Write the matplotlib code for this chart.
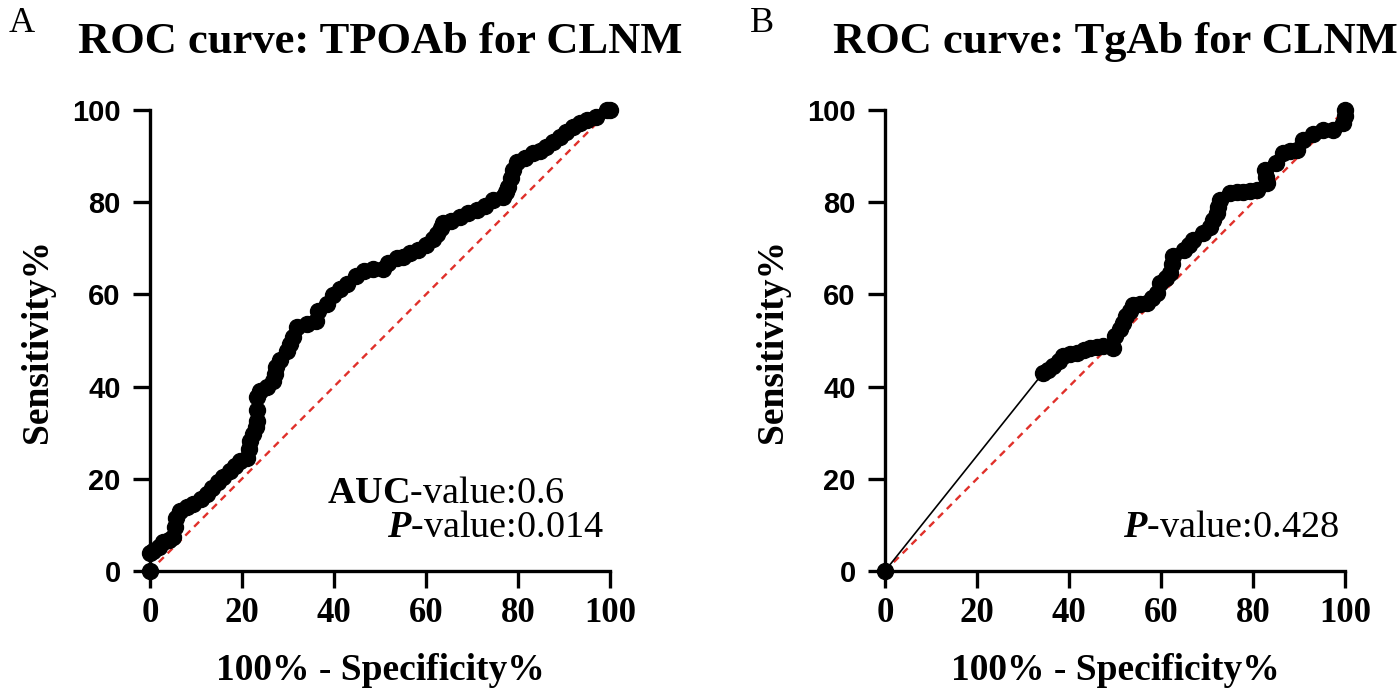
import matplotlib
matplotlib.use('Agg')
import matplotlib.pyplot as plt

plt.rcParams['mathtext.fontset'] = 'custom'
plt.rcParams['mathtext.rm'] = 'Liberation Serif'
plt.rcParams['mathtext.bf'] = 'Liberation Serif:bold'
plt.rcParams['mathtext.it'] = 'Liberation Serif:italic'
plt.rcParams['mathtext.bfit'] = 'Liberation Serif:italic:bold'

SERIF = 'Liberation Serif'
SANS = 'Liberation Sans'

# panel A: TPOAb, (100% - specificity%, sensitivity%)
tpo_fpr = [0, 0, 0.7, 2.0, 2.9, 4.2, 5.1, 5.4, 5.6, 6.5, 8.0, 9.4, 11.0, 12.3, 13.4, 14.8,
           15.9, 17.4, 18.5, 19.6, 21.0, 21.5, 21.7, 22.5, 23.0, 23.2, 23.2, 23.2, 23.9, 25.4,
           26.8, 27.2, 27.5, 28.3, 29.7, 30.5, 31.2, 31.9, 34.1, 36.2, 36.6, 38.4, 39.9, 41.3,
           42.8, 44.9, 46.5, 48.5, 50.7, 51.8, 53.6, 55.0, 56.5, 58.3, 60.1, 61.5, 62.3, 63.2,
           63.8, 65.5, 67.4, 69.2, 71.0, 72.8, 74.6, 76.8, 77.4, 77.9, 78.5, 79.0, 79.7, 81.5,
           83.3, 84.8, 86.2, 87.6, 89.1, 90.5, 92.0, 93.5, 94.9, 97.0, 99.3, 100]
tpo_sens = [0, 4.0, 4.3, 5.3, 6.2, 6.8, 7.4, 9.5, 11.6, 13.0, 13.8, 14.5, 15.6, 16.7, 18.1, 19.4,
            20.3, 21.7, 22.8, 23.9, 24.6, 26.5, 28.3, 29.7, 31.2, 32.6, 35.0, 37.7, 39.1, 39.9,
            41.3, 42.8, 44.2, 45.7, 47.8, 49.3, 50.7, 52.9, 53.6, 54.3, 56.5, 58.0, 59.8, 61.2,
            62.3, 64.0, 65.0, 65.5, 65.5, 66.9, 67.8, 68.2, 69.0, 69.6, 70.8, 72.0, 73.2, 74.3,
            75.4, 76.0, 76.8, 77.6, 78.3, 79.2, 80.4, 81.2, 82.3, 83.3, 85.2, 87.0, 88.8, 89.6,
            90.6, 91.2, 92.0, 93.0, 94.2, 95.2, 96.4, 97.2, 97.8, 98.5, 100, 100]

# panel B: TgAb
tg_fpr = [0, 34.4, 35.5, 36.6, 37.8, 38.8, 40.2, 41.7, 43.2, 44.6, 46.0, 47.5, 49.6, 50.0,
          51.1, 51.8, 52.5, 53.2, 54.0, 55.5, 56.9, 58.0, 59.1, 59.8, 61.0, 62.0, 62.4, 62.7,
          64.9, 66.0, 67.0, 69.2, 70.7, 71.4, 72.1, 72.5, 72.8, 75.0, 76.5, 77.9, 79.3, 80.8,
          83.0, 82.8, 82.6, 85.1, 86.6, 88.0, 89.5, 90.9, 93.1, 95.2, 97.5, 99.6, 100, 100]
tg_sens = [0, 43.0, 43.5, 44.4, 45.5, 46.6, 47.0, 47.3, 47.9, 48.4, 48.6, 48.8, 48.4, 50.9,
           52.4, 53.8, 55.3, 56.5, 57.8, 58.0, 58.2, 59.2, 60.3, 62.5, 63.5, 64.6, 66.5, 68.3,
           69.7, 70.8, 71.9, 73.3, 74.7, 76.2, 77.6, 79.0, 80.5, 82.0, 82.2, 82.3, 82.5, 82.7,
           84.1, 85.5, 87.0, 88.5, 90.6, 91.0, 91.3, 93.5, 94.9, 95.7, 95.7, 97.1, 98.6, 100]

titles = ['ROC curve: TPOAb for CLNM', 'ROC curve: TgAb for CLNM']
letters = ['A', 'B']
auc_notes = [r'$\mathbf{AUC}$-value:0.6', None]
p_notes = [r'$\mathbfit{P}$-value:0.014', r'$\mathbfit{P}$-value:0.428']
ticks = [0, 20, 40, 60, 80, 100]

fig = plt.figure(figsize=(14, 6.98), dpi=100)
ax_a = fig.add_axes([0.1071, 0.1819, 0.3286, 0.6605])
ax_b = fig.add_axes([0.6321, 0.1819, 0.3286, 0.6605])

for i, (ax, xs, ys) in enumerate([(ax_a, tpo_fpr, tpo_sens), (ax_b, tg_fpr, tg_sens)]):
    ax.plot([0, 100], [0, 100], color='#e0302a', lw=1.7, ls=(0, (3, 2.3)), zorder=2)
    ax.plot(xs, ys, color='black', lw=1.2, marker='o', ms=11.5, mec='black', mfc='black',
            clip_on=False, zorder=3)
    ax.set_xlim(0, 100)
    ax.set_ylim(0, 100)
    ax.set_xticks(ticks)
    ax.set_yticks(ticks)
    for s in ['top', 'right']:
        ax.spines[s].set_visible(False)
    for s in ['left', 'bottom']:
        ax.spines[s].set_linewidth(2.4)
    ax.tick_params(direction='out', length=12, width=2.4)
    ax.tick_params(axis='y', pad=9)
    ax.tick_params(axis='x', pad=7)
    for lab in ax.get_xticklabels():
        lab.set_fontfamily(SERIF)
        lab.set_fontweight('bold')
        lab.set_fontsize(25)
    for lab in ax.get_yticklabels():
        lab.set_fontfamily(SANS)
        lab.set_fontweight('bold')
        lab.set_fontsize(21)
    ax.set_xlabel('100% - Specificity%', fontfamily=SERIF, fontweight='bold', fontsize=27,
                  labelpad=16)
    ax.set_ylabel('Sensitivity%', fontfamily=SERIF, fontweight='bold', fontsize=27,
                  labelpad=12)
    ax.set_title(titles[i], fontfamily=SERIF, fontweight='bold', fontsize=32, pad=41)
    if auc_notes[i]:
        ax.text(90.2, 16.7, auc_notes[i], ha='right', va='center', fontfamily=SERIF,
                fontsize=27.5)
    ax.text(98.8, 9.3, p_notes[i], ha='right', va='center', fontfamily=SERIF, fontsize=27.5)

fig.text(0.006, 0.99, letters[0], ha='left', va='top', fontfamily=SERIF, fontsize=26)
fig.text(0.536, 0.99, letters[1], ha='left', va='top', fontfamily=SERIF, fontsize=26)

fig.savefig('out.png', dpi=100, facecolor='white')
